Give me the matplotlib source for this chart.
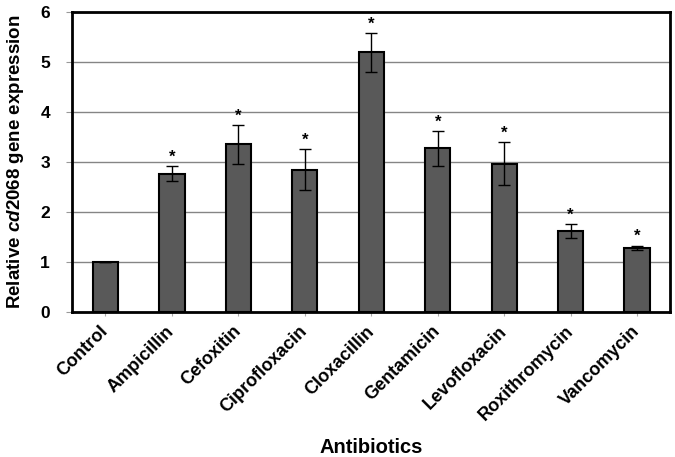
import matplotlib.pyplot as plt
import numpy as np

antibiotics = ["Control", "Ampicillin", "Cefoxitin", "Ciprofloxacin", "Cloxacillin",
               "Gentamicin", "Levofloxacin", "Roxithromycin", "Vancomycin"]
expression = [1.0, 2.77, 3.35, 2.85, 5.19, 3.27, 2.97, 1.62, 1.29]
errors = [0.0, 0.15, 0.38, 0.41, 0.39, 0.35, 0.42, 0.14, 0.04]
significant = [False, True, True, True, True, True, True, True, True]

plt.rcParams['font.family'] = ['Liberation Sans', 'DejaVu Sans']
plt.rcParams['font.weight'] = 'bold'
plt.rcParams['axes.labelweight'] = 'bold'
plt.rcParams['mathtext.fontset'] = 'custom'
plt.rcParams['mathtext.it'] = 'Liberation Sans:italic:bold'
plt.rcParams['mathtext.rm'] = 'Liberation Sans:bold'

fig = plt.figure(figsize=(6.75, 4.57), dpi=100)
ax = fig.add_axes([0.107, 0.317, 0.886, 0.657])

x = np.arange(len(antibiotics))
ax.bar(x, expression, width=0.38, color="#595959", edgecolor="black", linewidth=1.5, zorder=3)
ax.errorbar(x, expression, yerr=errors, fmt="none", ecolor="black", elinewidth=1,
            capsize=4, capthick=1, zorder=4)

for xi, v, e, s in zip(x, expression, errors, significant):
    if s:
        ax.text(xi, v + e + 0.03, "*", ha="center", va="bottom", fontsize=12, fontweight="bold")

ax.set_xlim(-0.5, 8.5)
ax.set_ylim(0, 6)
ax.set_yticks(range(7))
ax.yaxis.grid(True, color="#858585", linewidth=1, zorder=0)
for sp in ax.spines.values():
    sp.set_linewidth(2)

ax.set_xticks(x)
ax.set_xticklabels(antibiotics, rotation=45, ha="right", va="center",
                   rotation_mode="anchor", fontsize=13)
ax.tick_params(axis="y", labelsize=12.5, length=4, color="#999999", pad=12)
ax.tick_params(axis="x", length=3, color="#aaaaaa", pad=9)

ax.set_ylabel(r"Relative $\it{cd2068}$ gene expression", fontsize=13.5, labelpad=10)
ax.set_xlabel("Antibiotics", fontsize=14.5, va="center")
ax.xaxis.set_label_coords(0.5, -0.45)

plt.savefig("out.png", dpi=100)
